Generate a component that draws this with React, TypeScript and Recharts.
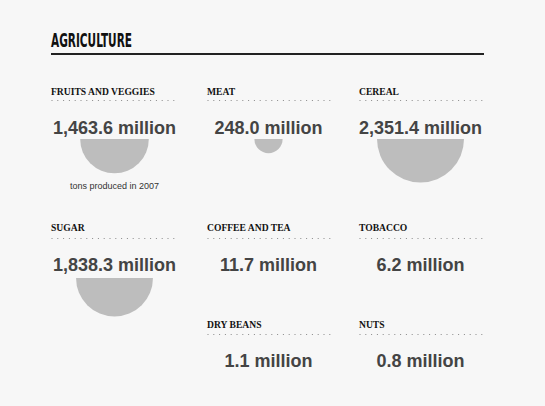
import { Cell, Pie, PieChart } from "recharts";

// World agricultural output, 2007 (million tons). Half-discs are sized by area.
const categories = [
  "FRUITS AND VEGGIES",
  "MEAT",
  "CEREAL",
  "SUGAR",
  "COFFEE AND TEA",
  "TOBACCO",
  "DRY BEANS",
  "NUTS",
];
const production = [1463.6, 248.0, 2351.4, 1838.3, 11.7, 6.2, 1.1, 0.8];
const unitNote = "tons produced in 2007";

// grid slot (column, row) for each category
const slots: [number, number][] = [
  [0, 0],
  [1, 0],
  [2, 0],
  [0, 1],
  [1, 1],
  [2, 1],
  [1, 2],
  [2, 2],
];

const W = 545;
const H = 406;
const BG = "#f7f7f7";
const DISC = "#bdbdbd";
const INK = "#444444";

const COL_X = [51, 207, 359];
const COL_CX = [114.5, 268.5, 420.5];
const COL_W = 127;
const LABEL_Y = [95, 231, 328];
const RULE_Y = [100, 238, 334];
const VALUE_Y = [133.5, 270.5, 366.5];
const DISC_Y = [139, 278, 374];
const R_MAX = 43.5;
const MIN_SHOWN = 100; // the original leaves out discs for the tiny crops

const maxValue = Math.max(...production);
const radius = (v: number) => R_MAX * Math.sqrt(v / maxValue);
const fmt = (v: number) =>
  v.toLocaleString("en-US", { minimumFractionDigits: 1, maximumFractionDigits: 1 }) +
  " million";

export default function App() {
  return (
    <div
      style={{
        position: "absolute",
        left: 0,
        top: 0,
        width: W,
        height: H,
        background: BG,
        overflow: "hidden",
      }}
    >
      <PieChart
        width={W}
        height={H}
        margin={{ top: 0, right: 0, bottom: 0, left: 0 }}
        style={{ position: "absolute", left: 0, top: 0 }}
      >
        {production.map((v, i) => {
          if (v < MIN_SHOWN) return null;
          const [c, r] = slots[i];
          return (
            <Pie
              key={categories[i]}
              data={[{ name: categories[i], value: v }]}
              dataKey="value"
              cx={COL_CX[c]}
              cy={DISC_Y[r]}
              innerRadius={0}
              outerRadius={radius(v)}
              startAngle={180}
              endAngle={360}
              stroke="none"
              isAnimationActive={false}
            >
              <Cell fill={DISC} />
            </Pie>
          );
        })}
      </PieChart>

      <svg
        width={W}
        height={H}
        style={{ position: "absolute", left: 0, top: 0, pointerEvents: "none" }}
      >
        <text
          x={51}
          y={47}
          fontFamily="'Liberation Sans Narrow', 'DejaVu Sans Condensed', sans-serif"
          fontWeight="bold"
          fontSize={19.5}
          textLength={81}
          lengthAdjust="spacingAndGlyphs"
          fill="#111"
        >
          AGRICULTURE
        </text>
        <line x1={51} x2={484} y1={54} y2={54} stroke="#222" strokeWidth={2} />

        {categories.map((name, i) => {
          const [c, r] = slots[i];
          const x0 = COL_X[c];
          return (
            <g key={name}>
              <text
                x={x0}
                y={LABEL_Y[r]}
                fontFamily="'Liberation Serif', serif"
                fontWeight="bold"
                fontSize={9.6}
                fill="#111"
              >
                {name}
              </text>
              <line
                x1={x0 + 0.5}
                x2={x0 + COL_W}
                y1={RULE_Y[r] + 0.5}
                y2={RULE_Y[r] + 0.5}
                stroke="#8a8a8a"
                strokeWidth={1}
                strokeDasharray="1 4.8"
              />
              <text
                x={COL_CX[c]}
                y={VALUE_Y[r]}
                textAnchor="middle"
                fontFamily="'Liberation Sans', Arial, sans-serif"
                fontWeight="bold"
                fontSize={18}
                fill={INK}
              >
                {fmt(production[i])}
              </text>
            </g>
          );
        })}

        <text
          x={COL_CX[0]}
          y={189}
          textAnchor="middle"
          fontFamily="'Liberation Sans', Arial, sans-serif"
          fontSize={9}
          fill="#333"
        >
          {unitNote}
        </text>
      </svg>
    </div>
  );
}
